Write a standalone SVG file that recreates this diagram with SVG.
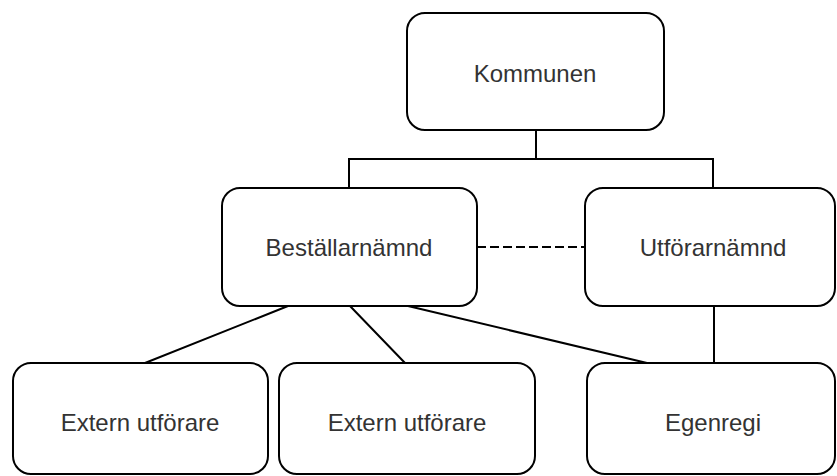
<svg xmlns="http://www.w3.org/2000/svg" width="837" height="476" viewBox="0 0 837 476">
<style>
.box{fill:#fff;stroke:#000;stroke-width:2}
.lbl{font-family:"Liberation Sans",Arial,sans-serif;font-size:24px;fill:#333;text-anchor:middle}
.ln{fill:none;stroke:#000;stroke-width:2}
.dash{stroke-dasharray:9 4}
</style>
<rect width="837" height="476" fill="#fff"/>
<g id="connectors">
<path class="ln" d="M536 130V159M348 159H714M349 159V188M713 159V188"/>
<path class="ln dash" d="M477 247H585"/>
<path class="ln" d="M288 306L145 363M350 306L405 363M408 306L647 363M714 306V363"/>
</g>
<g id="kommunen"><rect class="box" x="407" y="13" width="257" height="117" rx="18"/><text class="lbl" x="535" y="82">Kommunen</text></g>
<g id="bestallarnamnd"><rect class="box" x="222" y="188" width="255" height="118" rx="18"/><text class="lbl" x="349" y="256">Beställarnämnd</text></g>
<g id="utforarnamnd"><rect class="box" x="585" y="188" width="250" height="118" rx="18"/><text class="lbl" x="713" y="256">Utförarnämnd</text></g>
<g id="extern1"><rect class="box" x="13" y="363" width="255" height="111" rx="18"/><text class="lbl" x="140" y="431">Extern utförare</text></g>
<g id="extern2"><rect class="box" x="279" y="363" width="256" height="111" rx="18"/><text class="lbl" x="407" y="431">Extern utförare</text></g>
<g id="egenregi"><rect class="box" x="587" y="363" width="248" height="111" rx="18"/><text class="lbl" x="713" y="431">Egenregi</text></g>
</svg>
